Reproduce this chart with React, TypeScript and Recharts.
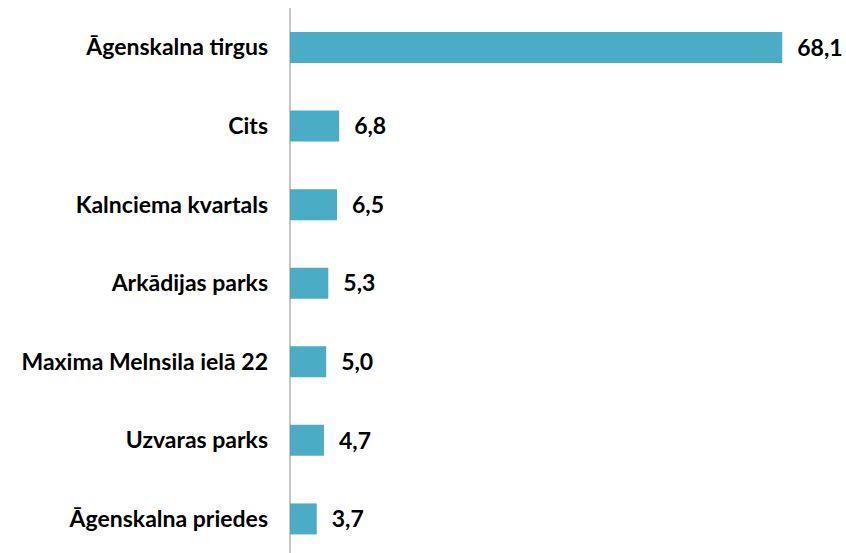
import { Bar, BarChart, LabelList, XAxis, YAxis } from "recharts";

const categories = [
  "Āgenskalna tirgus",
  "Cits",
  "Kalnciema kvartals",
  "Arkādijas parks",
  "Maxima Melnsila ielā 22",
  "Uzvaras parks",
  "Āgenskalna priedes",
];

const values = [68.1, 6.8, 6.5, 5.3, 5.0, 4.7, 3.7];

const data = categories.map((name, i) => ({ name, value: values[i] }));

const fmt = (v: any) => Number(v).toFixed(1).replace(".", ",");

const App = () => {
  return (
    <div style={{ position: "absolute", left: 0, top: 0, width: 846, height: 553, overflow: "hidden", background: "#fff" }}>
      <BarChart
        width={846}
        height={558}
        data={data}
        layout="vertical"
        margin={{ top: 8, right: 50, left: 0, bottom: 0 }}
        barCategoryGap={0}
      >
        <XAxis type="number" domain={[0, 70]} hide />
        <YAxis
          type="category"
          dataKey="name"
          width={290}
          axisLine={{ stroke: "#8c8c8c", strokeWidth: 1 }}
          tickLine={false}
          tickSize={0}
          tickMargin={22}
          tick={{ fill: "#000", fontSize: 23, fontWeight: 700, fontFamily: "Lato" }}
          interval={0}
        />
        <Bar dataKey="value" fill="#4bacc6" barSize={31} isAnimationActive={false}>
          <LabelList
            dataKey="value"
            position="right"
            offset={15}
            formatter={fmt}
            style={{ fill: "#000", fontSize: 23, fontWeight: 700, fontFamily: "Lato" }}
          />
        </Bar>
      </BarChart>
    </div>
  );
};

export default App;
